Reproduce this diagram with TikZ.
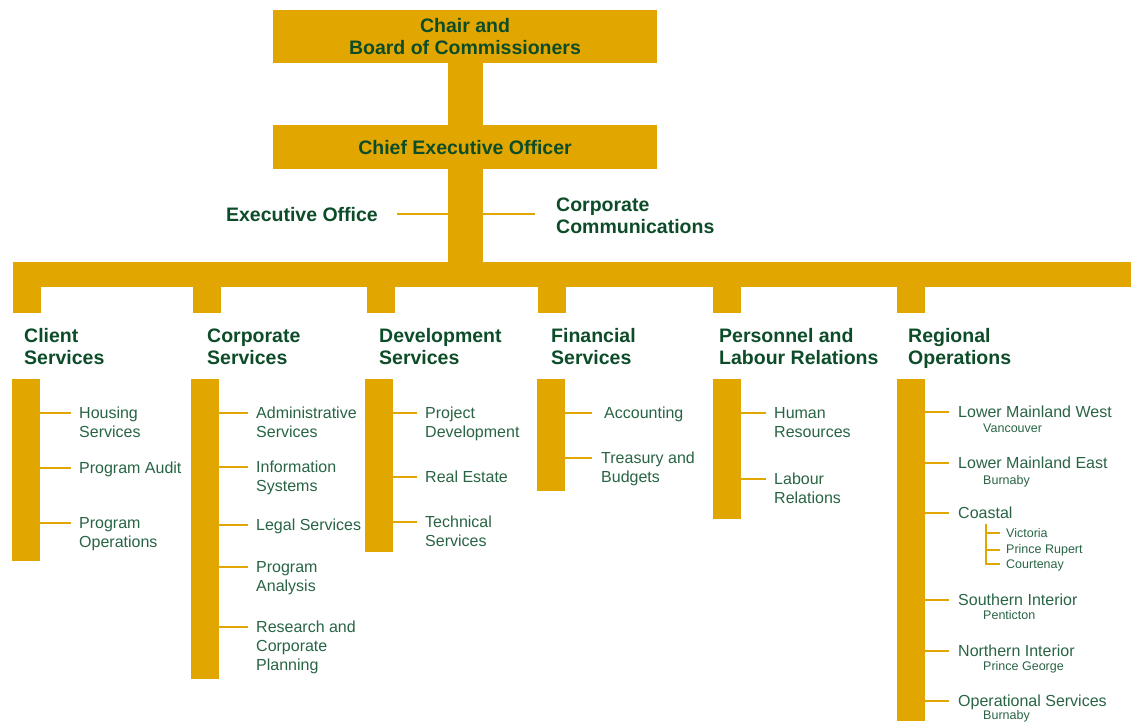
\documentclass[tikz,border=0pt]{standalone}
\usepackage{fontspec}
\setmainfont{Liberation Sans}
\definecolor{gold}{RGB}{226,166,0}
\definecolor{hgreen}{RGB}{12,76,40}
\definecolor{igreen}{RGB}{40,100,68}
\newcommand\lns[1]{\begin{tabular}[t]{@{}l@{}}#1\end{tabular}}
\newcommand\clns[1]{\begin{tabular}[t]{@{}c@{}}#1\end{tabular}}
\newcommand\orgitem[6]{%
  \coordinate (#2-t) at (#3,#4);
  \draw[tick] (#1.east |- #2-t) -- (#2-t);
  \node[item, anchor=base west] (#2) at (#5,#4+5.5) {\lns{#6}};
}
\begin{document}
\begin{tikzpicture}[x=1pt,y=-1pt,
  gbox/.style={fill=gold, draw=none, inner sep=0pt, outer sep=0pt, rectangle, anchor=north west},
  head/.style={font=\fontsize{19.5}{22.5}\selectfont\bfseries, text=hgreen, inner sep=0pt},
  item/.style={font=\fontsize{16}{19}\selectfont, text=igreen, inner sep=0pt},
  sub/.style={font=\fontsize{12.5}{15.5}\selectfont, text=igreen, inner sep=0pt, anchor=base west},
  tick/.style={draw=gold, line width=2.5pt},
  trunk/.style={draw=gold, line width=35pt},
  stub/.style={draw=gold, line width=28pt},
]
\useasboundingbox (0,0) rectangle (1131,721);

% top boxes
\node[gbox, minimum width=384pt, minimum height=53pt] (chair) at (273,10) {};
\node[gbox, minimum width=384pt, minimum height=44pt] (ceo) at (273,125) {};
\node[gbox, minimum width=1118pt, minimum height=25pt] (bus) at (13,262) {};

% staff lines
\coordinate (el) at (397,214);
\coordinate (er) at (535,214);
\draw[draw=gold, line width=2.3pt] (el) -- (er);

% trunk
\draw[trunk] (chair.south) -- (ceo.north);
\draw[trunk] (ceo.south) -- (ceo.south |- bus.north);

\node[head, anchor=base] (chairtxt) at (465,32) {\clns{Chair and\\Board of Commissioners}};
\node[head, anchor=base] (ceotxt) at (465,154) {Chief Executive Officer};
\node[head, anchor=base east] (exec) at (378,221) {Executive Office};
\node[head, anchor=base west] (comm) at (556,211) {\lns{Corporate\\Communications}};

% stubs
\foreach \n/\x in {s1/27, s2/207, s3/381, s4/552, s5/727, s6/911}{
  \coordinate (\n) at (\x,313);
  \draw[stub] (\n |- bus.south) -- (\n);
}

% headers
\node[head, anchor=base west] (hclient) at (24,342) {\lns{Client\\Services}};
\node[head, anchor=base west] (hcorp) at (207,342) {\lns{Corporate\\Services}};
\node[head, anchor=base west] (hdev) at (379,342) {\lns{Development\\Services}};
\node[head, anchor=base west] (hfin) at (551,342) {\lns{Financial\\Services}};
\node[head, anchor=base west] (hpers) at (719,342) {\lns{Personnel and\\Labour Relations}};
\node[head, anchor=base west] (hreg) at (908,342) {\lns{Regional\\Operations}};

% bars
\node[gbox, minimum width=28pt, minimum height=182pt] (bclient) at (12,379) {};
\node[gbox, minimum width=28pt, minimum height=300pt] (bcorp) at (191,379) {};
\node[gbox, minimum width=28pt, minimum height=173pt] (bdev) at (365,379) {};
\node[gbox, minimum width=28pt, minimum height=112pt] (bfin) at (537,379) {};
\node[gbox, minimum width=28pt, minimum height=140pt] (bpers) at (713,379) {};
\node[gbox, minimum width=28pt, minimum height=342pt] (breg) at (897,379) {};

% Client Services
\orgitem{bclient}{housing}{71}{413}{79}{Housing\\Services}
\orgitem{bclient}{audit}{71}{468}{79}{Program Audit}
\orgitem{bclient}{progops}{71}{523}{79}{Program\\Operations}

% Corporate Services
\orgitem{bcorp}{admin}{248}{413}{256}{Administrative\\Services}
\orgitem{bcorp}{info}{248}{467}{256}{Information\\Systems}
\orgitem{bcorp}{legal}{248}{525}{256}{Legal Services}
\orgitem{bcorp}{analysis}{248}{567}{256}{Program\\Analysis}
\orgitem{bcorp}{research}{248}{627}{256}{Research and\\Corporate\\Planning}

% Development Services
\orgitem{bdev}{projdev}{417}{413}{425}{Project\\Development}
\orgitem{bdev}{realest}{417}{477}{425}{Real Estate}
\orgitem{bdev}{tech}{417}{522}{425}{Technical\\Services}

% Financial Services
\orgitem{bfin}{acct}{592}{413}{604}{Accounting}
\orgitem{bfin}{treas}{592}{458}{601}{Treasury and\\Budgets}

% Personnel
\orgitem{bpers}{hr}{766}{413}{774}{Human\\Resources}
\orgitem{bpers}{labour}{766}{479}{774}{Labour\\Relations}

% Regional Operations
\orgitem{breg}{lmw}{949}{412}{958}{Lower Mainland West}
\node[sub] (vanc) at (983,432.5) {Vancouver};
\orgitem{breg}{lme}{949}{463}{958}{Lower Mainland East}
\node[sub] (burn1) at (983,484.5) {Burnaby};
\orgitem{breg}{coastal}{949}{513}{958}{Coastal}
\node[sub] (vic) at (1006,537.5) {Victoria};
\node[sub] (pr) at (1006,553.5) {Prince Rupert};
\node[sub] (court) at (1006,568.5) {Courtenay};
\coordinate (cbtop) at (986,524);
\coordinate (vic-t) at (1000,533);
\coordinate (pr-t) at (1000,550);
\coordinate (court-t) at (1000,564);
\draw[tick] (cbtop) |- (court-t);
\draw[tick] (cbtop |- vic-t) -- (vic-t);
\draw[tick] (cbtop |- pr-t) -- (pr-t);
\orgitem{breg}{south}{949}{600}{958}{Southern Interior}
\node[sub] (pent) at (983,619.5) {Penticton};
\orgitem{breg}{north}{949}{651}{958}{Northern Interior}
\node[sub] (pg) at (983,670.5) {Prince George};
\orgitem{breg}{opserv}{949}{701}{958}{Operational Services}
\node[sub] (burn2) at (983,719.5) {Burnaby};
\end{tikzpicture}
\end{document}
